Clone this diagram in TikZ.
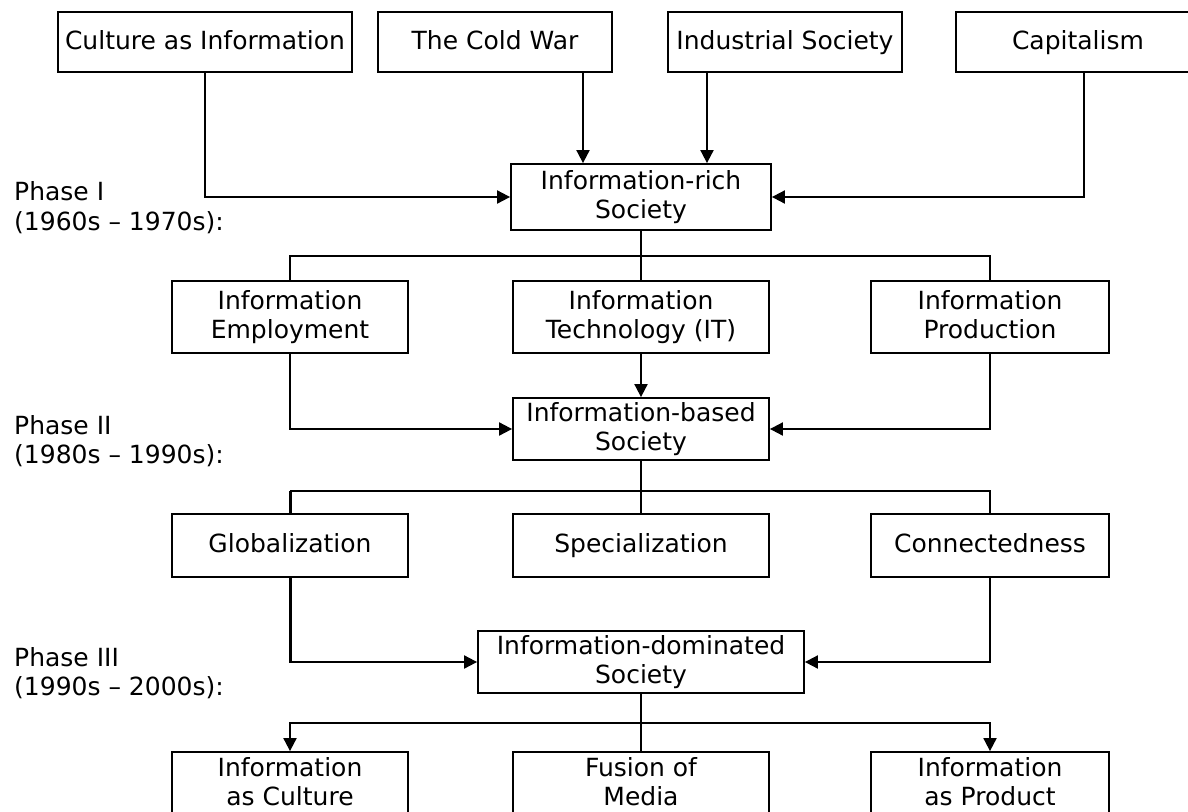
\documentclass[tikz,border=0pt]{standalone}
\usepackage{fontspec}
\setmainfont{DejaVu Sans}
\usetikzlibrary{arrows.meta}
\newcommand\lnst{\rule[-7pt]{0pt}{28pt}}
\begin{document}
\begin{tikzpicture}[x=1pt,y=-1pt,
  box/.style={draw, line width=1.8pt, fill=white, inner sep=0pt, align=center,
              font=\fontsize{25}{29.5}\selectfont},
  lowbox/.style={box, font=\fontsize{25}{27}\selectfont},
  lbl/.style={anchor=base west, inner sep=0pt, font=\fontsize{25}{29.5}\selectfont},
  link/.style={line width=1.9pt},
  arr/.style={line width=1.9pt, -{Triangle[length=13pt,width=13pt]}},
  heavy/.style={line width=3pt}]
\path[use as bounding box, clip] (0,0) rectangle (1188,811);
\fill[white] (0,0) rectangle (1188,811);

% top row
\node[box, minimum width=294pt, minimum height=60pt] (cult) at (205,42) {\lnst Culture as Information};
\node[box, minimum width=234pt, minimum height=60pt] (cold) at (495,42) {\lnst The Cold War};
\node[box, minimum width=234pt, minimum height=60pt] (ind) at (785,42) {\lnst Industrial Society};
\node[box, minimum width=244pt, minimum height=60pt] (cap) at (1078,42) {\lnst Capitalism};

\node[box, minimum width=260pt, minimum height=66pt] (rich) at (641,197) {\lnst Information-rich\\\lnst Society};

% row 2
\node[box, minimum width=236pt, minimum height=72pt] (emp) at (290,317) {\lnst Information\\\lnst Employment};
\node[box, minimum width=256pt, minimum height=72pt] (tech) at (641,317) {\lnst Information\\\lnst Technology (IT)};
\node[box, minimum width=238pt, minimum height=72pt] (prod) at (990,317) {\lnst Information\\\lnst Production};

\node[box, minimum width=256pt, minimum height=62pt] (based) at (641,429) {\lnst Information-based\\\lnst Society};

% row 3
\node[box, minimum width=236pt, minimum height=63pt] (glob) at (290,545.5) {\lnst Globalization};
\node[box, minimum width=256pt, minimum height=63pt] (spec) at (641,545.5) {\lnst Specialization};
\node[box, minimum width=238pt, minimum height=63pt] (connd) at (990,545.5) {\lnst Connectedness};

\node[box, minimum width=326pt, minimum height=62pt] (dom) at (641,662) {\lnst Information-dominated\\\lnst Society};

% bottom row
\node[lowbox, minimum width=236pt, minimum height=63pt] (infc) at (290,783.5) {\lnst Information\\\lnst as Culture};
\node[lowbox, minimum width=256pt, minimum height=63pt] (fus) at (641,783.5) {\lnst Fusion of\\\lnst Media};
\node[lowbox, minimum width=238pt, minimum height=63pt] (infp) at (990,783.5) {\lnst Information\\\lnst as Product};

% phase labels
\node[lbl] (p1a) at (14,200) {Phase I};
\node[lbl] (p1b) at (14,230) {(1960s – 1970s):};
\node[lbl] (p2a) at (14,434) {Phase II};
\node[lbl] (p2b) at (14,463) {(1980s – 1990s):};
\node[lbl] (p3a) at (14,666) {Phase III};
\node[lbl] (p3b) at (14,695) {(1990s – 2000s):};

% phase I connectors
\draw[arr] ([xshift=88pt]cold.south) -- ([xshift=88pt]cold.south |- rich.north);
\draw[arr] ([xshift=-78pt]ind.south) -- ([xshift=-78pt]ind.south |- rich.north);
\draw[arr] (cult.south) |- (rich.west);
\draw[arr] ([xshift=6pt]cap.south) |- (rich.east);

% phase I -> row 2
\draw[link] (rich.south) -- (tech.north);
\draw[link] (emp.north) -- ([yshift=24pt]emp.north) -| (prod.north);

% phase II
\draw[arr] (tech.south) -- (based.north);
\draw[arr] (emp.south) |- (based.west);
\draw[arr] (prod.south) |- (based.east);

% based -> row 3
\draw[link] (based.south) -- (spec.north);
\draw[link] ([yshift=22pt]glob.north) -| (connd.north);
\draw[heavy] (glob.north) -- ([yshift=22pt]glob.north);

% phase III
\draw[arr] (glob.south) |- (dom.west);
\draw[heavy] (glob.south) -- (glob.south |- dom.west);
\draw[arr] (connd.south) |- (dom.east);

% dom -> bottom row
\draw[link] (dom.south) -- (fus.north);
\draw[arr] ([yshift=28pt]infp.north) -| (infc.north);
\draw[arr] ([yshift=28pt]infc.north) -| (infp.north);
\end{tikzpicture}
\end{document}
